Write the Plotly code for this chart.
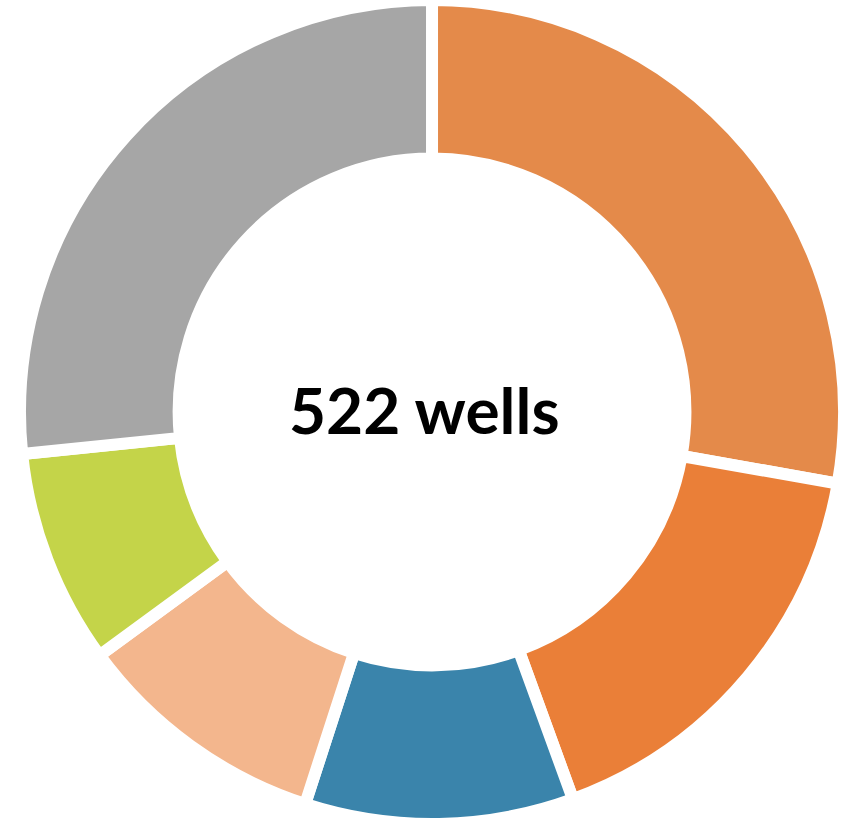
import plotly.graph_objects as go

categories = ["Category A", "Category B", "Category C", "Category D", "Category E", "Category F"]
values = [145, 87, 55, 52, 44, 139]
colors = ["#E48A4A", "#EA7F38", "#3A84AB", "#F3B68D", "#C4D449", "#A6A6A6"]
center_label = "522 wells"

fig = go.Figure(go.Pie(
    labels=categories,
    values=values,
    hole=0.615,
    sort=False,
    direction="clockwise",
    rotation=0,
    marker=dict(colors=colors, line=dict(color="white", width=12)),
    textinfo="none",
    hoverinfo="label+value",
    domain=dict(x=[0.0165, 1.0], y=[0, 1]),
    showlegend=False,
))

fig.add_annotation(
    text="<b>" + center_label + "</b>",
    x=0.5082, y=0.5, xref="paper", yref="paper",
    xanchor="center", yanchor="middle",
    xshift=-7, yshift=3,
    showarrow=False,
    font=dict(family="Lato", size=64, color="#000000"),
)

fig.update_layout(
    width=850, height=824,
    margin=dict(l=0, r=0, t=0, b=0),
    paper_bgcolor="white",
    plot_bgcolor="white",
)

fig.write_html("out.html", config={"displayModeBar": False},
               post_script="document.body.style.margin='0';")
